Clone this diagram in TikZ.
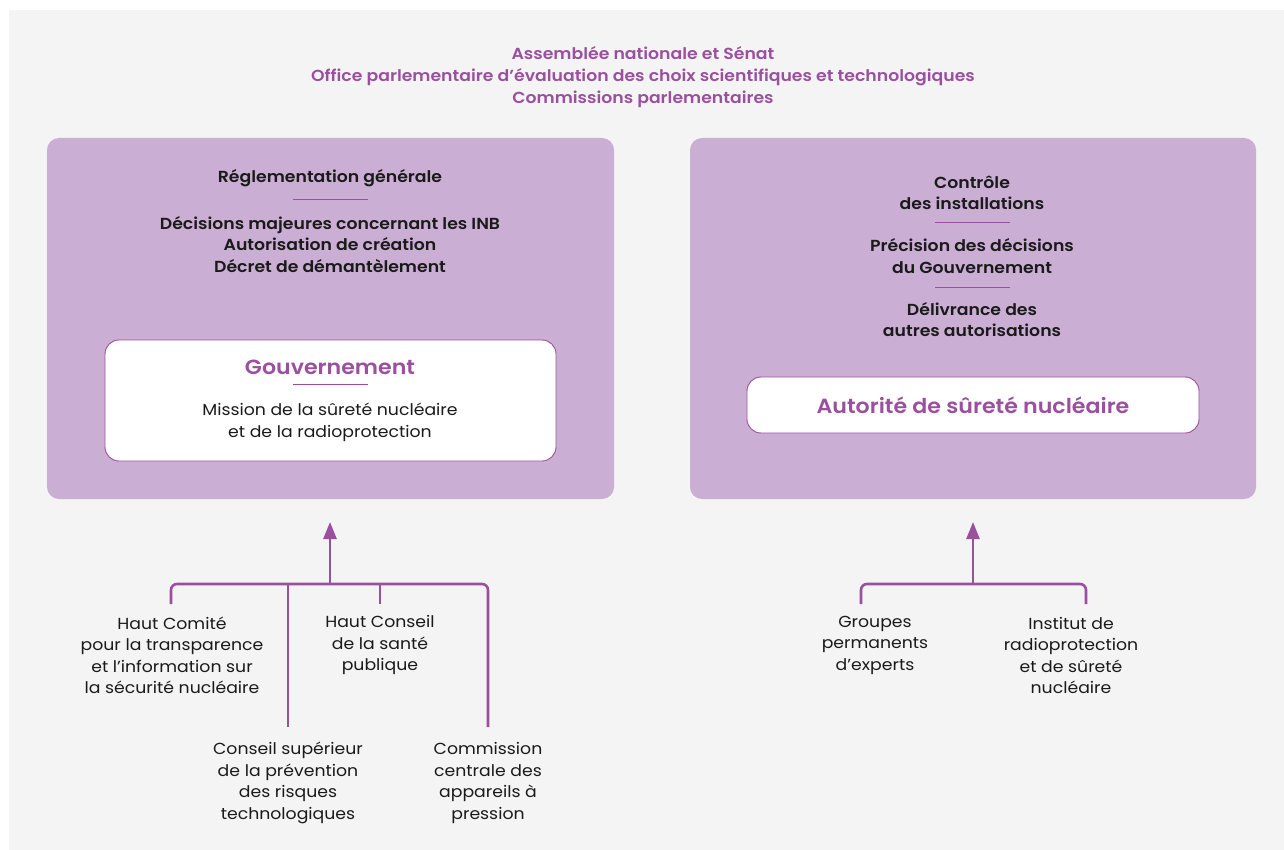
\documentclass[tikz,border=0pt]{standalone}
\usepackage{fontspec}
\IfFontExistsTF{Poppins SemiBold}{%
  \setmainfont{Poppins}[BoldFont={Poppins SemiBold},FakeStretch=1.08]%
}{%
  \setmainfont{Poppins}[FakeStretch=1.08]%
}
\usetikzlibrary{arrows.meta}
\definecolor{bggray}{HTML}{F4F4F4}
\definecolor{boxfill}{HTML}{CBAED4}
\definecolor{purp}{HTML}{9B4F9F}
\definecolor{txt}{HTML}{1A1A1A}
\tikzset{
  x=1pt,y=-1pt,
  bigbox/.style={fill=boxfill,rounded corners=12pt},
  whitebox/.style={fill=white,draw=purp,line width=0.9pt,rounded corners=14pt},
  ttl/.style={text=purp,font=\fontsize{16}{22}\selectfont\bfseries,align=center,inner sep=0},
  hd/.style={text=txt,font=\fontsize{16}{21.5}\selectfont\bfseries,align=center,inner sep=0},
  bodytxt/.style={text=txt,font=\fontsize{16}{21.5}\selectfont,align=center,inner sep=0},
  orgname/.style={text=purp,font=\fontsize{20.5}{24}\selectfont\bfseries,align=center,inner sep=0},
  sep/.style={draw=purp,line width=0.9pt},
  conn/.style={draw=purp,line width=2.6pt,rounded corners=6pt},
  arr/.style={draw=purp,line width=2.6pt,-{Triangle[length=17pt,width=13pt]}},
}
\begin{document}
\begin{tikzpicture}
\useasboundingbox (0,0) rectangle (1284,850);
\fill[white] (0,0) rectangle (1284,850);
\fill[bggray] (9,10) rectangle (1284,850);

% title
\node[ttl] (title) at (643,77.5) {Assemblée nationale et Sénat\\Office parlementaire d’évaluation des choix scientifiques et technologiques\\Commissions parlementaires};

% left box
\path[bigbox] (47,138) rectangle (614,499);
\node[hd] (regl) at (330,178.5) {Réglementation générale};
\draw[sep] (293,199) -- (368,199);
\node[hd] (decis) at (330,244.5) {Décisions majeures concernant les INB\\Autorisation de création\\Décret de démantèlement};
\path[whitebox] (105,340) rectangle (556,461);
\node[orgname] (gouv) at (330,367.5) {Gouvernement};
\draw[sep] (293,384) -- (368,384);
\node[bodytxt] (mission) at (330,422.5) {Mission de la sûreté nucléaire\\et de la radioprotection};
\coordinate (govbottom) at (330,522);

% right box
\path[bigbox] (690,138) rectangle (1256,499);
\node[hd] (ctrl) at (972,193) {Contrôle\\des installations};
\draw[sep] (935,222) -- (1010,222);
\node[hd] (prec) at (972,256) {Précision des décisions\\du Gouvernement};
\draw[sep] (935,287) -- (1010,287);
\node[hd] (deliv) at (972,319.5) {Délivrance des\\autres autorisations};
\path[whitebox] (747,377) rectangle (1199,433);
\node[orgname] (asn) at (973,405) {Autorité de sûreté nucléaire};
\coordinate (asnbottom) at (973,522);

% left tree
\node[bodytxt] (hcti) at (172,655.5) {Haut Comité\\pour la transparence\\et l’information sur\\la sécurité nucléaire};
\node[bodytxt] (hcsp) at (380,645) {Haut Conseil\\de la santé\\publique};
\node[bodytxt] (cspr) at (288,783) {Conseil supérieur\\de la prévention\\des risques\\technologiques};
\node[bodytxt] (ccap) at (488,783) {Commission\\centrale des\\appareils à\\pression};
\coordinate (jl) at (330,584);
\draw[conn] (171,604) -- (171,584) -- (488,584) -- (488,727);
\draw[conn] (288,584) -- (288,727);
\draw[conn] (380,584) -- (380,604);
\draw[arr] (jl) -- (govbottom);

% right tree
\node[bodytxt] (gpe) at (875,645) {Groupes\\permanents\\d’experts};
\node[bodytxt] (irsn) at (1071,655.5) {Institut de\\radioprotection\\et de sûreté\\nucléaire};
\coordinate (jr) at (973,584);
\draw[conn] (861,604) -- (861,584) -- (1086,584) -- (1086,604);
\draw[arr] (jr) -- (asnbottom);
\end{tikzpicture}
\end{document}
